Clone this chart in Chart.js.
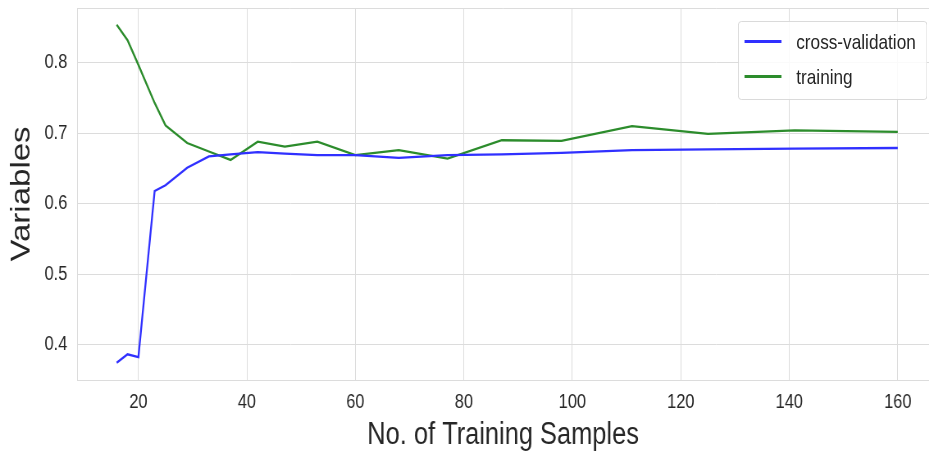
<!DOCTYPE html>
<html>
<head>
<meta charset="utf-8">
<script src="https://cdn.jsdelivr.net/npm/chart.js@4.4.1/dist/chart.umd.min.js"></script>
<style>
  html, body { margin: 0; padding: 0; background: #fff; overflow: hidden; }
  /* the source picture is squeezed sideways, so draw wide and squeeze the same way */
  #wrap { position: relative; width: 1133px; height: 459px; transform: scaleX(0.82); transform-origin: 0 0; }
  #legend {
    position: absolute; left: 900px; top: 21px; width: 229px; height: 77px;
    border: 1px solid #d6d6d6; border-radius: 4px; background: rgba(255,255,255,0.85);
    font-family: "Liberation Sans", sans-serif; font-size: 21px; color: #262626;
  }
  #legend .item { position: absolute; left: 0; height: 24px; line-height: 24px; white-space: nowrap; }
  #legend .swatch { position: absolute; left: 7px; top: 10px; width: 45px; height: 3px; }
  #legend .label { position: absolute; left: 70px; top: 0; }
</style>
</head>
<body>
<div id="wrap">
  <canvas id="learningChart" width="1133" height="459"></canvas>
  <div id="legend"></div>
</div>
<script>
const trainSizes = [16, 18, 20, 23, 25, 29, 33, 37, 42, 47, 53, 60, 68, 77, 87, 98, 111, 125, 141, 160]
const cvScores = [0.374, 0.386, 0.382, 0.618, 0.626, 0.651, 0.667, 0.670, 0.673, 0.671, 0.669, 0.669, 0.665, 0.669, 0.670, 0.672, 0.676, 0.677, 0.678, 0.679]
const trainScores = [0.854, 0.832, 0.797, 0.743, 0.711, 0.686, 0.674, 0.662, 0.688, 0.681, 0.688, 0.669, 0.676, 0.664, 0.690, 0.689, 0.710, 0.699, 0.704, 0.702]
const xTicks = [20, 40, 60, 80, 100, 120, 140, 160]
const yTicks = [0.4, 0.5, 0.6, 0.7, 0.8]

const gridColor = '#dcdcdc'
const textColor = '#262626'
const fontFamily = '"Liberation Sans", Arial, sans-serif'

// top spine, the data range is padded so there is no tick up there
const topFrame = {
  id: 'topFrame',
  beforeDatasetsDraw(chart) {
    const { ctx, chartArea } = chart
    ctx.save()
    ctx.strokeStyle = gridColor
    ctx.lineWidth = 1
    ctx.beginPath()
    ctx.moveTo(chartArea.left, chartArea.top + 0.5)
    ctx.lineTo(chartArea.right, chartArea.top + 0.5)
    ctx.stroke()
    ctx.restore()
  }
}

const toPoints = (xs, ys) => xs.map((x, i) => ({ x, y: ys[i] }))

const chart = new Chart(document.getElementById('learningChart'), {
  type: 'line',
  data: {
    datasets: [
      {
        label: 'cross-validation',
        data: toPoints(trainSizes, cvScores),
        borderColor: '#3030ff',
        borderWidth: 2.3,
        pointRadius: 0,
        tension: 0
      },
      {
        label: 'training',
        data: toPoints(trainSizes, trainScores),
        borderColor: '#2c8c2c',
        borderWidth: 2.3,
        pointRadius: 0,
        tension: 0
      }
    ]
  },
  options: {
    responsive: false,
    animation: false,
    layout: { padding: { top: 8, right: 0, bottom: 0, left: 0 } },
    plugins: {
      legend: { display: false },
      tooltip: { enabled: false }
    },
    scales: {
      x: {
        type: 'linear',
        min: 8.7,
        max: 165.77,
        afterBuildTicks: scale => { scale.ticks = xTicks.map(v => ({ value: v })) },
        afterFit: scale => {
          scale.height = 79
          scale.paddingLeft = 0
          scale.paddingRight = 0
        },
        grid: { color: gridColor, drawTicks: false },
        border: { color: gridColor },
        ticks: {
          padding: 10,
          color: textColor,
          font: { family: fontFamily, size: 20 },
          callback: v => String(v)
        },
        title: {
          display: true,
          text: 'No. of Training Samples',
          color: textColor,
          padding: { top: 0, bottom: 5 },
          font: { family: fontFamily, size: 31 }
        }
      },
      y: {
        min: 0.3495,
        max: 0.8778,
        afterBuildTicks: scale => { scale.ticks = yTicks.map(v => ({ value: v })) },
        afterFit: scale => {
          scale.width = 94
          scale.paddingTop = 0
          scale.paddingBottom = 0
        },
        grid: { color: gridColor, drawTicks: false },
        border: { color: gridColor },
        ticks: {
          padding: 12,
          color: textColor,
          font: { family: fontFamily, size: 20 },
          callback: v => Number(v).toFixed(1)
        },
        title: {
          display: true,
          text: 'Variables',
          color: textColor,
          padding: { top: 7, bottom: 0 },
          font: { family: fontFamily, size: 33 }
        }
      }
    }
  },
  plugins: [topFrame]
})

// legend drawn inside the plot, upper right, like the original
const legendEl = document.getElementById('legend')
chart.data.datasets.forEach((ds, i) => {
  const item = document.createElement('div')
  item.className = 'item'
  item.style.top = (8 + i * 35) + 'px'
  item.style.width = '100%'
  const swatch = document.createElement('span')
  swatch.className = 'swatch'
  swatch.style.background = ds.borderColor
  const label = document.createElement('span')
  label.className = 'label'
  label.textContent = ds.label
  item.appendChild(swatch)
  item.appendChild(label)
  legendEl.appendChild(item)
})
</script>
</body>
</html>
